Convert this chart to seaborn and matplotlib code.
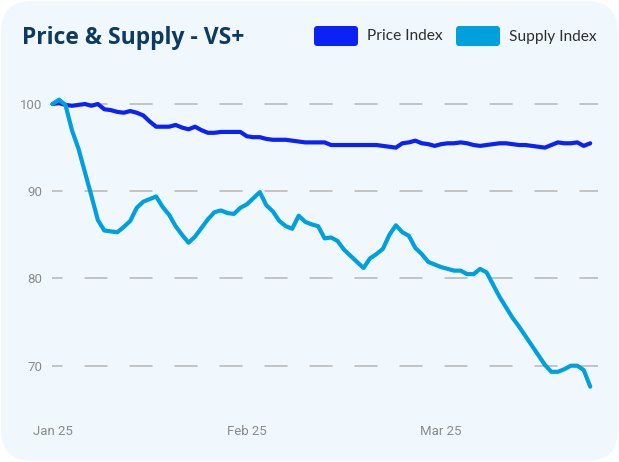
import matplotlib
matplotlib.use('Agg')
import matplotlib.pyplot as plt
from matplotlib.patches import FancyBboxPatch
import pandas as pd
import seaborn as sns

# daily index values, Jan 25 -> late Mar
price_index = [100.0, 100.1, 99.9, 99.8, 99.9, 100.0, 99.8, 100.0, 99.4, 99.3,
               99.1, 99.0, 99.2, 99.0, 98.7, 98.0, 97.4, 97.4, 97.4, 97.6,
               97.3, 97.1, 97.4, 97.0, 96.7, 96.7, 96.8, 96.8, 96.8, 96.8,
               96.3, 96.2, 96.2, 96.0, 95.9, 95.9, 95.9, 95.8, 95.7, 95.6,
               95.6, 95.6, 95.6, 95.3, 95.3, 95.3, 95.3, 95.3, 95.3, 95.3,
               95.3, 95.2, 95.1, 95.0, 95.5, 95.6, 95.8, 95.5, 95.4, 95.2,
               95.4, 95.5, 95.5, 95.6, 95.5, 95.3, 95.2, 95.3, 95.4, 95.5,
               95.5, 95.4, 95.3, 95.3, 95.2, 95.1, 95.0, 95.3, 95.6, 95.5,
               95.5, 95.6, 95.2, 95.5]
supply_index = [100.0, 100.5, 99.9, 97.0, 94.9, 92.2, 89.5, 86.7, 85.5, 85.4,
                85.3, 85.9, 86.6, 88.1, 88.8, 89.1, 89.4, 88.2, 87.3, 86.0,
                85.0, 84.1, 84.8, 85.8, 86.8, 87.6, 87.8, 87.5, 87.4, 88.1,
                88.5, 89.2, 89.9, 88.4, 87.7, 86.6, 86.0, 85.7, 87.2, 86.5,
                86.2, 86.0, 84.6, 84.7, 84.3, 83.3, 82.6, 81.9, 81.2, 82.3,
                82.8, 83.4, 85.0, 86.1, 85.3, 84.9, 83.5, 82.8, 81.9, 81.6,
                81.3, 81.1, 80.9, 80.9, 80.5, 80.5, 81.1, 80.7, 79.3, 77.9,
                76.7, 75.5, 74.5, 73.4, 72.3, 71.2, 70.1, 69.3, 69.3, 69.6,
                70.0, 70.0, 69.5, 67.6]
tick_pos = [0, 30, 60]
tick_labels = ['Jan 25', 'Feb 25', 'Mar 25']
y_ticks = [70, 80, 90, 100]

PRICE_C = '#0b22f4'
SUPPLY_C = '#00a0dc'
BG = '#f0f8fe'

df = pd.DataFrame({'day': list(range(len(price_index))) * 2,
                   'value': price_index + supply_index,
                   'series': ['Price Index'] * len(price_index) + ['Supply Index'] * len(supply_index)})

sns.set_style('white')
plt.rcParams['font.family'] = ['Roboto', 'DejaVu Sans']
plt.rcParams['lines.scale_dashes'] = False

W, H = 619, 462
fig = plt.figure(figsize=(W / 100, H / 100), dpi=100)
fig.patch.set_facecolor('white')

# rounded card behind everything
card = FancyBboxPatch((1 / W, 1 / H), (W - 2) / W, (H - 2) / H,
                      boxstyle='round,pad=0,rounding_size=0.05',
                      transform=fig.transFigure, facecolor=BG, edgecolor='none',
                      mutation_aspect=W / H, zorder=-10)
fig.patches.append(card)

ax = fig.add_axes([52.5 / W, 1 - 400 / H, (598 - 52.5) / W, (400 - 85) / H])
ax.set_facecolor('none')
ax.set_zorder(1)

sns.lineplot(data=df, x='day', y='value', hue='series',
             palette={'Price Index': PRICE_C, 'Supply Index': SUPPLY_C},
             linewidth=3.0, legend=False, ax=ax,
             solid_capstyle='round', solid_joinstyle='round', clip_on=False)

ax.set_xlim(0, 84.2)
ax.set_ylim(66.07, 102.18)
ax.set_xticks(tick_pos)
ax.set_xticklabels(tick_labels)
ax.set_yticks(y_ticks)
ax.tick_params(axis='both', length=0, colors='#8a8a8a', labelsize=9.5)
ax.tick_params(axis='x', pad=18)
ax.tick_params(axis='y', pad=7.5)
ax.set_xlabel('')
ax.set_ylabel('')
for s in ax.spines.values():
    s.set_visible(False)
ax.yaxis.grid(True, color='#b5b5b5', linewidth=1.1,
              linestyle=(9.0, (16.6, 15.8)))
ax.set_axisbelow(True)

# title
fig.text(22 / W, 1 - 43.5 / H, 'Price & Supply - VS+', fontsize=16.5, fontweight='bold',
         color='#0d3a60', family=['Open Sans', 'DejaVu Sans'], va='baseline', ha='left')

# legend
for x0, txt, col in [(314, 'Price Index', PRICE_C), (456, 'Supply Index', SUPPLY_C)]:
    box = FancyBboxPatch((x0 / W, 1 - 46 / H), 44 / W, 20 / H,
                         boxstyle='round,pad=0,rounding_size=0.005',
                         transform=fig.transFigure, facecolor=col, edgecolor='none',
                         mutation_aspect=W / H)
    fig.patches.append(box)
    fig.text((x0 + 53) / W, 1 - 36.5 / H, txt, fontsize=11.2, color='#2e2e2e',
             family=['Lato', 'DejaVu Sans'], va='center', ha='left')

fig.savefig('out.png', dpi=100, facecolor=fig.get_facecolor())
